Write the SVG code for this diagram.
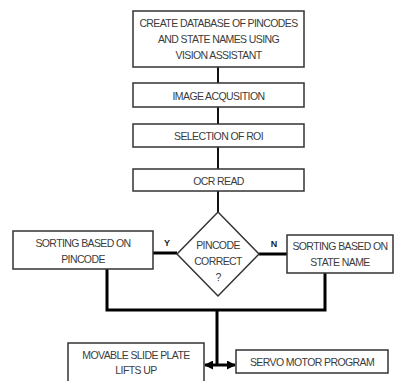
<svg xmlns="http://www.w3.org/2000/svg" width="399" height="381" viewBox="0 0 399 381">
<style>
.box{fill:#fff;stroke:#333;stroke-width:1.5}
.t{font-family:"Liberation Sans",Arial,sans-serif;font-size:10.5px;fill:#3c3c3c;text-anchor:middle;letter-spacing:-0.6px}
.lbl{font-family:"Liberation Sans",Arial,sans-serif;font-size:9px;font-weight:bold;fill:#222;text-anchor:middle}
.thin{stroke:#111;stroke-width:2;fill:none}
.thick{stroke:#000;stroke-width:3;fill:none}
</style>
<defs>
<marker id="ah" viewBox="0 0 10 10" refX="9" refY="5" markerWidth="3" markerHeight="3" orient="auto-start-reverse">
<path d="M0,0 L10,5 L0,10 z" fill="#000"/>
</marker>
</defs>
<rect width="399" height="381" fill="#fff"/>
<g id="connectors">
<line class="thin" x1="218" y1="67" x2="218" y2="83"/>
<line class="thin" x1="218" y1="107" x2="218" y2="124"/>
<line class="thin" x1="218" y1="147" x2="218" y2="169"/>
<line class="thin" x1="218" y1="191" x2="218" y2="212"/>
<line class="thick" x1="153" y1="253" x2="177" y2="253"/>
<line class="thick" x1="259" y1="254" x2="287" y2="254"/>
<polyline class="thick" points="107,269 107,310 325,310 325,273"/>
<line class="thick" x1="217" y1="310" x2="217" y2="365"/>
<line class="thick" x1="217" y1="365" x2="205" y2="365" marker-end="url(#ah)"/>
<line class="thick" x1="217" y1="365" x2="235" y2="365" marker-end="url(#ah)"/>
<text class="lbl" x="167" y="246">Y</text>
<text class="lbl" x="274" y="247">N</text>
</g>
<g id="n1"><rect class="box" x="133" y="11" width="171" height="56"/>
<text class="t" x="218.5" y="27">CREATE DATABASE OF PINCODES</text>
<text class="t" x="218.5" y="43">AND STATE NAMES USING</text>
<text class="t" x="218.5" y="59">VISION ASSISTANT</text></g>
<g id="n2"><rect class="box" x="133" y="83" width="171" height="24"/>
<text class="t" x="218.5" y="99.5">IMAGE ACQUSITION</text></g>
<g id="n3"><rect class="box" x="133" y="124" width="171" height="23"/>
<text class="t" x="218.5" y="140">SELECTION OF ROI</text></g>
<g id="n4"><rect class="box" x="133" y="169" width="171" height="22"/>
<text class="t" x="218.5" y="184.5">OCR READ</text></g>
<g id="n5"><polygon class="box" points="218,212 259,254 218,296 177,254"/>
<text class="t" x="218" y="249">PINCODE</text>
<text class="t" x="218" y="265">CORRECT</text>
<text class="t" x="218" y="281">?</text></g>
<g id="n6"><rect class="box" x="13" y="231" width="140" height="38"/>
<text class="t" x="83" y="247">SORTING BASED ON</text>
<text class="t" x="83" y="263">PINCODE</text></g>
<g id="n7"><rect class="box" x="287" y="235" width="106" height="38"/>
<text class="t" x="340" y="250">SORTING BASED ON</text>
<text class="t" x="340" y="266">STATE NAME</text></g>
<g id="n8"><rect class="box" x="68" y="343" width="136" height="45"/>
<text class="t" x="136" y="359">MOVABLE SLIDE PLATE</text>
<text class="t" x="136" y="374">LIFTS UP</text></g>
<g id="n9"><rect class="box" x="236" y="350" width="152" height="23"/>
<text class="t" x="312" y="365.5">SERVO MOTOR PROGRAM</text></g>
</svg>
